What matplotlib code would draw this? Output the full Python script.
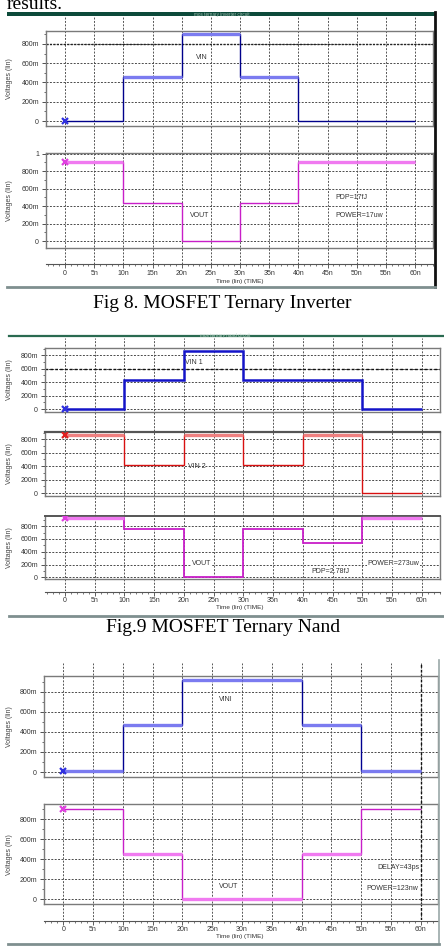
import numpy as np
import matplotlib.pyplot as plt
from matplotlib.lines import Line2D
from matplotlib.patches import Rectangle
from matplotlib.ticker import MultipleLocator

W, H = 444, 946

# ---- data: time in ns, voltage in V ----
edges = [0, 10, 20, 30, 40, 50, 60]
time_ticks = [0, 5, 10, 15, 20, 25, 30, 35, 40, 45, 50, 55, 60]
time_labels = ['0', '5n', '10n', '15n', '20n', '25n', '30n', '35n', '40n', '45n', '50n', '55n', '60n']

volt_ticks = [0, 0.2, 0.4, 0.6, 0.8]
volt_labels = ['0', '200m', '400m', '600m', '800m']
volt_ticks_1 = [0, 0.2, 0.4, 0.6, 0.8, 1.0]
volt_labels_1 = ['0', '200m', '400m', '600m', '800m', '1']

# Fig 8 - inverter
inv_vin = [0.0, 0.457, 0.907, 0.457, 0.0, 0.0]
inv_vout = [0.903, 0.438, 0.0, 0.438, 0.903, 0.903]
# Fig 9 - nand
nand_vin1 = [0.0, 0.43, 0.87, 0.43, 0.43, 0.0]
nand_vin2 = [0.866, 0.42, 0.866, 0.42, 0.866, 0.0]
nand_vout = [0.93, 0.755, 0.01, 0.755, 0.54, 0.93]
# Fig 10 (no caption visible)
buf_vin = [0.01, 0.465, 0.913, 0.913, 0.465, 0.01]
buf_vout = [0.906, 0.456, 0.0, 0.0, 0.456, 0.906]

SANS = 'Liberation Sans'
SERIF = 'Liberation Serif'


def frac(x0, y0, x1, y1):
    return [x0 / W, 1 - y1 / H, (x1 - x0) / W, (y1 - y0) / H]


def xlims(L, R, xmap):
    p0, p60 = xmap
    s = (p60 - p0) / 60
    return (L - p0) / s, (R - p0) / s


def panel(fig, box, xmap, ymap, ticks, labels):
    L, T, R, B = box
    y0, ppu = ymap
    ax = fig.add_axes(frac(L, T, R, B))
    ax.set_facecolor('none')
    ax.set_xlim(*xlims(L, R, xmap))
    ax.set_ylim((y0 - B) / ppu, (y0 - T) / ppu)
    ax.set_xticks([])
    ax.set_yticks(ticks, labels)
    ax.yaxis.set_minor_locator(MultipleLocator(0.1))
    ax.tick_params(axis='y', which='major', length=3, width=0.6, pad=2,
                   labelsize=5, color='#333333', labelcolor='#333333')
    ax.tick_params(axis='y', which='minor', length=1.5, width=0.5, color='#333333')
    for lab in ax.get_yticklabels():
        lab.set_family(SANS)
    ax.grid(axis='y', ls=(0, (2, 1.5)), color='#4a4a4a', lw=0.7)
    for sp in ax.spines.values():
        sp.set_color('#7a7a7a')
        sp.set_linewidth(1.0)
    fig.text(10 / W, 1 - (T + B) / 2 / H, 'Voltages (lin)', rotation=90,
             fontsize=5, family=SANS, color='#444444', ha='center', va='center')
    return ax


def trace(ax, vals, dark, light, lit, mark, lw=1.0):
    v = np.array(vals)
    m = np.array(lit, dtype=bool)
    e = np.array(edges, dtype=float)
    ax.stairs(v, e, baseline=None, color=dark, lw=lw, zorder=3)
    if m.any():
        ax.hlines(v[m], e[:-1][m], e[1:][m], color=light, lw=2.4, zorder=4)
    ax.plot(e[0], v[0], marker='x', color=mark, ms=5, mew=1.6, zorder=5)


def ruler(fig, L, R, y, xmap, label_y):
    ax = fig.add_axes(frac(L, y - 0.5, R, y + 0.5))
    ax.set_facecolor('none')
    ax.set_xlim(*xlims(L, R, xmap))
    ax.set_yticks([])
    for k in ['left', 'right', 'top']:
        ax.spines[k].set_visible(False)
    ax.spines['bottom'].set_color('#555555')
    ax.spines['bottom'].set_linewidth(0.8)
    ax.set_xticks(time_ticks, time_labels)
    ax.xaxis.set_minor_locator(MultipleLocator(1))
    ax.tick_params(axis='x', which='major', length=3, width=0.6, pad=1,
                   labelsize=5, color='#444444', labelcolor='#333333')
    ax.tick_params(axis='x', which='minor', length=1.5, width=0.5, color='#444444')
    for lab in ax.get_xticklabels():
        lab.set_family(SANS)
    fig.text(240 / W, 1 - label_y / H, 'Time (lin) (TIME)', fontsize=4.6, family=SANS,
             color='#333333', ha='center', va='center')


def vgrid(fig, L, R, top, bottom, xmap, dark_at=()):
    ax = fig.add_axes(frac(L, top, R, bottom))
    ax.set_xlim(*xlims(L, R, xmap))
    ax.set_ylim(0, 1)
    ax.axis('off')
    ax.vlines(time_ticks, 0, 1, colors='#555555', linestyles=(0, (2, 1.5)), lw=0.7)
    if dark_at:
        ax.vlines(list(dark_at), 0, 1, colors='#111111', linestyles=(0, (2, 1.5)), lw=1.0)


def fline(fig, x0, y0, x1, y1, color, lw):
    fig.add_artist(Line2D([x0 / W, x1 / W], [1 - y0 / H, 1 - y1 / H],
                          transform=fig.transFigure, color=color, lw=lw))


fig = plt.figure(figsize=(W / 100, H / 100), dpi=100)

BLUE_D, BLUE_L = '#00008b', '#7b7bf0'
MAG_D, MAG_L = '#c81ec8', '#f07af0'
RED_D, RED_L = '#d81010', '#f08080'

# text cut at top of page (as in the scanned page)
fig.text(7 / W, 1 - 9 / H, 'results.', fontsize=14, family=SERIF, va='baseline')

# ================= Fig 8 =================
xm1 = (65, 415)
fig.add_artist(Rectangle((7 / W, 1 - 16.5 / H), 428 / W, 4.5 / H,
                         transform=fig.transFigure, color='#0d4a3a', lw=0))
fig.text(222 / W, 1 - 14.2 / H, 'mos ternary inverter circuit', fontsize=3.3,
         family=SANS, color='#9fbfb0', ha='center', va='center')
vgrid(fig, 46, 433, 17, 264, xm1)
a = panel(fig, (46, 31, 433, 126), xm1, (121, 96.25), volt_ticks, volt_labels)
a.axhline(volt_ticks[4], color='#222222', ls=(0, (1.5, 1)), lw=1.0)
trace(a, inv_vin, BLUE_D, BLUE_L, [False, True, True, True, False, False], '#3030e0')
a.text(23.4, 0.66, 'VIN', fontsize=5, family=SANS, color='#333333', ha='center', va='center')
b = panel(fig, (46, 153, 433, 248), xm1, (241, 87.5), volt_ticks_1, volt_labels_1)
trace(b, inv_vout, MAG_D, MAG_L, [True, False, False, False, True, True], '#e040e0')
b.text(23.1, 0.29, 'VOUT', fontsize=5, family=SANS, color='#333333', ha='center', va='center')
b.text(46.3, 0.495, 'PDP=17fJ', fontsize=5, family=SANS, color='#333333', ha='left', va='center')
b.text(46.3, 0.29, 'POWER=17uw', fontsize=5, family=SANS, color='#333333', ha='left', va='center')
ruler(fig, 46, 433, 264, xm1, 281)
fline(fig, 435, 12, 435, 287, '#111111', 2.0)
fline(fig, 7, 287, 435, 287, '#7f8f8f', 2.0)
fig.text(222 / W, 1 - 303 / H, 'Fig 8. MOSFET Ternary Inverter', fontsize=14,
         family=SERIF, ha='center', va='center')

# ================= Fig 9 =================
xm2 = (65, 421.7)
fline(fig, 9, 336, 444, 336, '#2a6a50', 1.6)
fig.text(225 / W, 1 - 335 / H, 'mos ternary nand circuit', fontsize=3.3,
         family=SANS, color='#c0d8cc', ha='center', va='center')
vgrid(fig, 45, 440, 338, 591, xm2)
a = panel(fig, (45, 347.7, 440, 412), xm2, (409, 67), volt_ticks, volt_labels)
a.axhline(volt_ticks[3], color='#111111', ls=(0, (2, 1.5)), lw=1.0)
trace(a, nand_vin1, '#1414c8', BLUE_L, [False] * 6, '#3030e0', lw=1.8)
a.text(21.7, 0.7, 'VIN 1', fontsize=5, family=SANS, color='#333333', ha='center', va='center')
b = panel(fig, (45, 431.7, 440, 496), xm2, (493, 67), volt_ticks, volt_labels)
b.spines['top'].set_color('#555555')
b.spines['top'].set_linewidth(1.6)
trace(b, nand_vin2, RED_D, RED_L, [True, False, True, False, True, False], '#e02020')
b.text(22.2, 0.39, 'VIN 2', fontsize=5, family=SANS, color='#333333', ha='center', va='center')
c = panel(fig, (45, 515.7, 440, 579), xm2, (577.3, 64), volt_ticks, volt_labels)
c.spines['top'].set_color('#555555')
c.spines['top'].set_linewidth(1.4)
trace(c, nand_vout, MAG_D, MAG_L, [True, False, False, False, False, True], '#e040e0', lw=1.3)
c.text(23.0, 0.22, 'VOUT', fontsize=5, family=SANS, color='#333333', ha='center', va='center',
       bbox=dict(facecolor='white', edgecolor='none', pad=0.5))
c.text(44.6, 0.09, 'PDP=2.78fJ', fontsize=5, family=SANS, color='#333333', ha='center', va='center')
c.text(55.2, 0.22, 'POWER=273uw', fontsize=5, family=SANS, color='#333333', ha='center', va='center',
       bbox=dict(facecolor='white', edgecolor='none', pad=0.5))
ruler(fig, 45, 440, 591, xm2, 607.7)
fline(fig, 9, 615.7, 444, 615.7, '#7f8f8f', 2.0)
fig.text(223 / W, 1 - 627.3 / H, 'Fig.9 MOSFET Ternary Nand', fontsize=14,
         family=SERIF, ha='center', va='center')

# ================= Fig 10 =================
xm3 = (63.3, 420.7)
vgrid(fig, 44, 438, 663, 920, xm3, dark_at=[time_ticks[-1]])
a = panel(fig, (44, 676, 438, 776.7), xm3, (772, 100.4), volt_ticks, volt_labels)
trace(a, buf_vin, '#000090', BLUE_L, [True] * 6, '#3030e0')
a.text(27.3, 0.72, 'VINI', fontsize=5, family=SANS, color='#333333', ha='center', va='center')
b = panel(fig, (44, 804.3, 438, 904.3), xm3, (899.3, 100), volt_ticks, volt_labels)
trace(b, buf_vout, MAG_D, MAG_L, [False, True, True, True, True, False], '#e040e0')
b.text(27.8, 0.133, 'VOUT', fontsize=5, family=SANS, color='#333333', ha='center', va='center')
b.text(56.2, 0.32, 'DELAY=43ps', fontsize=5, family=SANS, color='#333333', ha='center', va='center')
b.text(55.3, 0.106, 'POWER=123nw', fontsize=5, family=SANS, color='#333333', ha='center', va='center')
ruler(fig, 44, 438, 920, xm3, 936.7)
fline(fig, 439, 660, 439, 944, '#9aa8a8', 1.2)
fline(fig, 8, 944, 439, 944, '#7f8f8f', 2.0)

fig.savefig('out.png', dpi=100)
